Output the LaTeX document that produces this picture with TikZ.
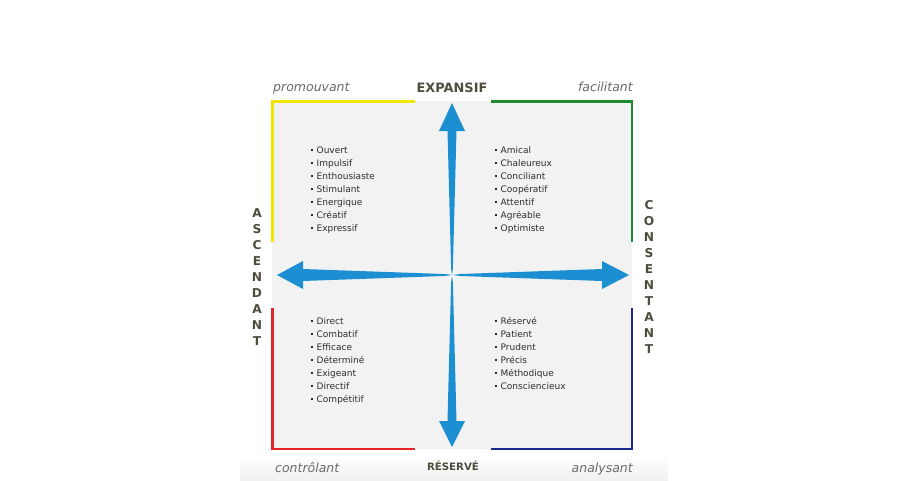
\documentclass[tikz,border=0pt]{standalone}
\usepackage{fontspec}
\setmainfont{DejaVu Sans}
\usetikzlibrary{fadings}
\definecolor{arrowblue}{HTML}{1B8FD2}
\definecolor{panel}{HTML}{F2F2F2}
\definecolor{qyellow}{HTML}{F2E500}
\definecolor{qgreen}{HTML}{1E8C2E}
\definecolor{qred}{HTML}{E82229}
\definecolor{qnavy}{HTML}{1A2A8C}
\definecolor{axistext}{HTML}{4F4D3E}
\definecolor{stylegray}{HTML}{6A6A6A}
\definecolor{listtext}{HTML}{2E2E2E}
\newcommand\qbul{\raisebox{2.4pt}{\rule{1.9pt}{1.9pt}}\hspace{3.6pt}}
\tikzfading[name=glowfade, inner color=transparent!0, outer color=transparent!100]
\begin{document}
\begin{tikzpicture}[x=1pt,y=-1pt,
  framepart/.style={line width=2.8pt},
  axislabel/.style={font=\bfseries\fontsize{12.9}{14}\selectfont, text=axistext, inner sep=0, anchor=base},
  sidelabel/.style={font=\bfseries\fontsize{12.2}{16}\selectfont, text=axistext, inner sep=0, align=center},
  stylelabel/.style={font=\itshape\fontsize{12.5}{14}\selectfont, text=stylegray, inner sep=0},
  item/.style={font=\fontsize{9}{13}\selectfont, text=listtext, inner sep=0, anchor=base west},
  arrowshape/.style={fill=arrowblue},
]
\useasboundingbox (0,0) rectangle (910,480);
\fill[white] (0,0) rectangle (910,480);
% faint bottom band
\shade[top color=white, bottom color=black!6] (240,456) rectangle (668,480);
% panel
\fill[panel] (272,101) rectangle (632,449);
% frame corners
\draw[framepart, qyellow] (415,101.5) -- (272.5,101.5) -- (272.5,242);
\draw[framepart, qgreen] (491,101.5) -- (632,101.5) -- (632,242);
\draw[framepart, qred] (272.5,308) -- (272.5,449) -- (415,449);
\draw[framepart, qnavy] (632,308) -- (632,449) -- (491,449);
% arrows
\coordinate (c) at (452,275);
\fill[arrowshape] (277,275) -- (303,261) -- (303,269) -- (452,274.3) -- (452,275.7) -- (303,281) -- (303,289) -- cycle;
\fill[arrowshape] (629,275) -- (602,261) -- (602,269) -- (452,274.3) -- (452,275.7) -- (602,281) -- (602,289) -- cycle;
\fill[arrowshape] (452,103) -- (465,131) -- (456.5,131) -- (452.7,275) -- (451.3,275) -- (447.5,131) -- (439,131) -- cycle;
\fill[arrowshape] (452,447) -- (465,421) -- (456.5,421) -- (452.7,275) -- (451.3,275) -- (447.5,421) -- (439,421) -- cycle;
\fill[white, path fading=glowfade] (c) circle (7);
% axis labels
\node[axislabel] (expansif) at (452,92) {EXPANSIF};
\node[axislabel, font=\bfseries\fontsize{10.2}{12}\selectfont] (reserve) at (453,470) {RÉSERVÉ};
\node[sidelabel] (ascendant) at (257,277) {A\\S\\C\\E\\N\\D\\A\\N\\T};
\node[sidelabel] (consentant) at (649,277) {C\\O\\N\\S\\E\\N\\T\\A\\N\\T};
% style labels
\node[stylelabel, anchor=base west] (promouvant) at (273,91) {promouvant};
\node[stylelabel, anchor=base east] (facilitant) at (633,91) {facilitant};
\node[stylelabel, anchor=base west] (controlant) at (275,472) {contrôlant};
\node[stylelabel, anchor=base east] (analysant) at (633,472) {analysant};
% lists
\foreach \t [count=\i] in {Ouvert,Impulsif,Enthousiaste,Stimulant,Energique,Créatif,Expressif}
  \node[item] (tl\i) at (311,{153.5+13*(\i-1)}) {\qbul\t};
\foreach \t [count=\i] in {Amical,Chaleureux,Conciliant,Coopératif,Attentif,Agréable,Optimiste}
  \node[item] (tr\i) at (495,{153.5+13*(\i-1)}) {\qbul\t};
\foreach \t [count=\i] in {Direct,Combatif,Efficace,Déterminé,Exigeant,Directif,Compétitif}
  \node[item] (bl\i) at (311,{324+13*(\i-1)}) {\qbul\t};
\foreach \t [count=\i] in {Réservé,Patient,Prudent,Précis,Méthodique,Consciencieux}
  \node[item] (br\i) at (495,{324+13*(\i-1)}) {\qbul\t};
\end{tikzpicture}
\end{document}
